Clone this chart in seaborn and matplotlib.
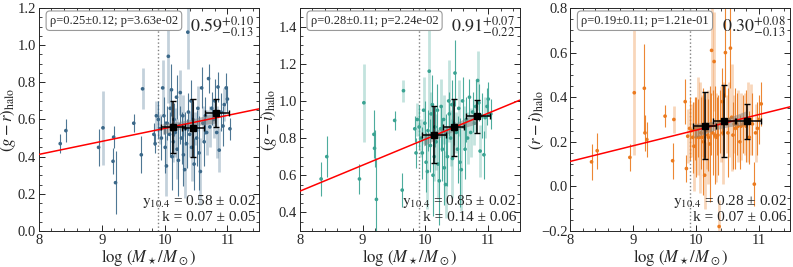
import numpy as np
import matplotlib
matplotlib.use("Agg")
import matplotlib.pyplot as plt
import seaborn as sns
import pandas as pd
from matplotlib.ticker import AutoMinorLocator, MultipleLocator

sns.set_style("ticks")
plt.rcParams['font.family'] = ['Liberation Serif', 'DejaVu Serif']
plt.rcParams['mathtext.fontset'] = 'stix'

# stellar mass of each galaxy (same sample in all three panels)
logm = [8.34, 8.43, 8.95, 9.02, 9.18, 9.19, 9.22, 9.51, 9.63, 9.65, 9.83, 9.85, 9.87,
        9.90, 9.93, 9.95, 9.97, 9.99, 10.01, 10.03, 10.04, 10.06, 10.08, 10.09, 10.11,
        10.12, 10.14, 10.15, 10.17, 10.19, 10.20, 10.22, 10.24, 10.25, 10.27, 10.29, 10.30,
        10.32, 10.33, 10.35, 10.37, 10.38, 10.40, 10.42, 10.43, 10.45, 10.47, 10.49, 10.51,
        10.53, 10.55, 10.57, 10.59, 10.61, 10.63, 10.65, 10.67, 10.70, 10.72, 10.75, 10.78,
        10.80, 10.83, 10.85, 10.87, 10.90, 10.93, 10.95, 10.98, 11.00, 11.04]

# halo colours
gr = [0.47, 0.54, 0.45, 0.555, 0.375, 0.505, 0.26, 0.58, 0.41, 0.765, 0.52, 0.47, 0.62,
      0.60, 0.55, 0.50, 0.77, 0.62, 0.45, 0.35, 0.58, 0.94, 0.52, 0.66, 0.76,
      0.40, 0.48, 0.60, 0.53, 0.72, 0.44, 0.38, 0.57, 0.745, 0.50, 0.62, 0.41,
      0.33, 0.55, 0.47, 1.07, 0.64, 0.52, 0.70, 0.45, 0.60, 0.36, 0.55, 0.50,
      0.66, 0.42, 0.32, 0.77, 0.58, 0.48, 0.62, 0.53, 0.82, 0.56, 0.66, 0.60,
      0.70, 0.53, 0.775, 0.435, 0.64, 0.565, 0.68, 0.77, 0.71, 0.55]
gr_err = [0.05, 0.06, 0.10, 0.20, 0.07, 0.06, 0.17, 0.05, 0.10, 0.11, 0.06, 0.05, 0.08,
          0.10, 0.08, 0.12, 0.15, 0.10, 0.14, 0.16, 0.09, 0.25, 0.12, 0.10, 0.14,
          0.18, 0.11, 0.09, 0.13, 0.12, 0.16, 0.19, 0.10, 0.12, 0.14, 0.11, 0.17,
          0.15, 0.09, 0.13, 0.20, 0.10, 0.12, 0.11, 0.18, 0.10, 0.14, 0.09, 0.15,
          0.12, 0.20, 0.18, 0.11, 0.09, 0.13, 0.10, 0.12, 0.08, 0.11, 0.09, 0.10,
          0.12, 0.14, 0.08, 0.12, 0.10, 0.11, 0.09, 0.08, 0.07, 0.06]

gi = [0.58, 0.70, 0.58, 0.99, 0.82, 0.745, 0.47, 0.895, 0.52, 1.055, 0.85, 0.72, 0.90,
      0.86, 0.80, 0.72, 0.95, 0.88, 0.67, 0.62, 0.84, 1.16, 0.76, 0.93, 0.98,
      0.60, 0.70, 0.86, 0.78, 0.95, 0.66, 0.57, 0.85, 0.97, 0.74, 0.90, 0.64,
      0.55, 0.82, 0.70, 1.00, 0.93, 0.80, 0.98, 0.69, 0.88, 1.15, 0.83, 0.74,
      0.96, 0.67, 0.63, 1.00, 0.86, 0.74, 0.90, 0.80, 1.02, 0.83, 0.94, 0.88,
      0.97, 1.11, 0.99, 0.73, 0.92, 0.71, 0.91, 0.97, 1.01, 0.93]
gi_err = [0.09, 0.11, 0.08, 0.21, 0.13, 0.10, 0.22, 0.05, 0.09, 0.06, 0.07, 0.08, 0.09,
          0.12, 0.10, 0.14, 0.18, 0.12, 0.16, 0.20, 0.11, 0.30, 0.14, 0.12, 0.16,
          0.22, 0.13, 0.11, 0.15, 0.14, 0.19, 0.24, 0.12, 0.15, 0.17, 0.13, 0.20,
          0.18, 0.11, 0.16, 0.22, 0.12, 0.15, 0.13, 0.21, 0.12, 0.18, 0.11, 0.18,
          0.15, 0.24, 0.22, 0.13, 0.11, 0.16, 0.12, 0.14, 0.10, 0.13, 0.11, 0.12,
          0.14, 0.16, 0.10, 0.14, 0.12, 0.13, 0.11, 0.10, 0.09, 0.08]

ri = [0.11, 0.16, 0.13, 0.42, 0.44, 0.24, 0.21, 0.315, 0.115, 0.30, 0.38, 0.08, 0.225,
      0.26, 0.25, 0.22, 0.18, 0.26, 0.22, 0.27, 0.26, 0.22, 0.24, 0.27, 0.22,
      0.20, 0.05, 0.26, 0.25, 0.23, 0.22, 0.19, 0.28, 0.61, 0.24, 0.56, 0.23,
      0.22, 0.27, 0.23, -0.18, 0.29, 0.28, 0.38, 0.24, 0.28, 0.60, 0.28, 0.24,
      0.30, 0.62, 0.31, 0.23, 0.28, 0.26, 0.28, 0.27, 0.20, 0.27, 0.28, 0.28,
      0.27, 0.29, 0.22, 0.30, 0.28, 0.01, 0.24, 0.26, 0.30, 0.37]
ri_err = [0.08, 0.08, 0.06, 0.28, 0.20, 0.08, 0.08, 0.05, 0.08, 0.06, 0.10, 0.06, 0.12,
          0.14, 0.12, 0.16, 0.20, 0.14, 0.18, 0.22, 0.13, 0.25, 0.16, 0.14, 0.18,
          0.24, 0.15, 0.13, 0.17, 0.16, 0.21, 0.26, 0.14, 0.20, 0.19, 0.22, 0.22,
          0.20, 0.13, 0.18, 0.12, 0.14, 0.17, 0.15, 0.23, 0.14, 0.20, 0.13, 0.20,
          0.17, 0.18, 0.24, 0.15, 0.13, 0.18, 0.14, 0.16, 0.12, 0.15, 0.13, 0.14,
          0.16, 0.18, 0.12, 0.16, 0.14, 0.10, 0.13, 0.12, 0.11, 0.10]

# galaxies whose error bars are drawn faint/thick
faint = [3, 9, 12, 14, 16, 19, 21, 23, 26, 28, 30, 33, 35, 37, 40, 42, 44, 47, 49,
         51, 53, 56, 58, 60, 62, 64, 67]

# binned means
bin_x = [10.14, 10.45, 10.82]
bin_xlo = [9.95, 10.28, 10.64]
bin_xhi = [10.32, 10.62, 11.03]
gr_bin = [0.561, 0.555, 0.633]
gr_bin_lo = [0.42, 0.40, 0.557]
gr_bin_hi = [0.70, 0.71, 0.71]
gi_bin = [0.817, 0.858, 0.917]
gi_bin_lo = [0.666, 0.705, 0.826]
gi_bin_hi = [0.973, 1.009, 1.007]
ri_bin = [0.271, 0.294, 0.294]
ri_bin_lo = [0.124, 0.130, 0.213]
ri_bin_hi = [0.423, 0.456, 0.370]

# fit results
y104 = [0.58, 0.85, 0.28]
y104_err = [0.02, 0.02, 0.02]
slope = [0.07, 0.14, 0.07]
slope_err = [0.05, 0.06, 0.06]
rho = ["ρ=0.25±0.12; p=3.63e-02", "ρ=0.28±0.11; p=2.24e-02", "ρ=0.19±0.11; p=1.21e-01"]
median_txt = [r"$0.59^{+0.10}_{-0.13}$", r"$0.91^{+0.07}_{-0.22}$", r"$0.30^{+0.08}_{-0.13}$"]
ylabels = [r"$(g-r)_\mathrm{halo}$", r"$(g-i)_\mathrm{halo}$", r"$(r-i)_\mathrm{halo}$"]
ylims = [(0.0, 1.2), (0.3, 1.5), (-0.2, 0.8)]
colors = ["#3b6889", "#3aa392", "#eb7a1e"]

panels = [
    (gr, gr_err, gr_bin, gr_bin_lo, gr_bin_hi),
    (gi, gi_err, gi_bin, gi_bin_lo, gi_bin_hi),
    (ri, ri_err, ri_bin, ri_bin_lo, ri_bin_hi),
]

fig = plt.figure(figsize=(7.93, 2.67), dpi=100)
lefts = [0.049, 0.378, 0.719]
ylab_x = [-0.095, -0.095, -0.11]

for i, (y, yerr, by, blo, bhi) in enumerate(panels):
    ax = fig.add_axes([lefts[i], 0.135, 0.2774, 0.835])
    c = colors[i]
    df = pd.DataFrame({"logm": logm, "col": y, "err": yerr})
    df["faint"] = [j in faint for j in range(len(df))]

    ax.axvline(9.9, color="gray", ls=":", lw=1.0, zorder=1)

    f = df[df.faint]
    d = df[~df.faint]
    ax.errorbar(f.logm, f.col, yerr=f.err, fmt="none", ecolor=c, alpha=0.3,
                elinewidth=2.0, zorder=2)
    ax.errorbar(d.logm, d.col, yerr=d.err, fmt="none", ecolor=c, alpha=0.9,
                elinewidth=0.8, zorder=2)
    sns.scatterplot(data=df, x="logm", y="col", ax=ax, color=c, s=7,
                    edgecolor="none", zorder=3, legend=False)

    # fit line and its uncertainty
    xx = np.linspace(8, 11.5, 200)
    yy = y104[i] + slope[i] * (xx - 10.4)
    sns.lineplot(x=xx, y=yy, ax=ax, color="red", lw=1.1, zorder=4)
    xb = np.linspace(9.97, 10.8, 100)
    yb = y104[i] + slope[i] * (xb - 10.4)
    hw = np.sqrt(y104_err[i] ** 2 + (slope_err[i] * (xb - 10.4)) ** 2)
    ax.fill_between(xb, yb - hw, yb + hw, color="gray", alpha=0.5, lw=0, zorder=3.5)

    by = np.array(by)
    ax.errorbar(bin_x, by, yerr=[by - np.array(blo), np.array(bhi) - by],
                xerr=[np.array(bin_x) - np.array(bin_xlo), np.array(bin_xhi) - np.array(bin_x)],
                fmt="s", color="black", ms=5, elinewidth=1.1, capsize=2, capthick=1,
                zorder=5)

    ax.text(0.05, 0.943, rho[i], transform=ax.transAxes, fontsize=9, va="center",
            ha="left", bbox=dict(boxstyle="round,pad=0.3", fc="white", ec="#999999", lw=0.8),
            zorder=6)
    ax.text(0.98, 0.975, median_txt[i], transform=ax.transAxes, fontsize=13,
            ha="right", va="top", zorder=6)
    ax.text(0.985, 0.13, r"$\mathrm{y}_{10.4}$" + f" = {y104[i]:.2f} ± {y104_err[i]:.2f}",
            transform=ax.transAxes, fontsize=11, ha="right", va="center", zorder=6)
    ax.text(0.985, 0.06, f"k = {slope[i]:.2f} ± {slope_err[i]:.2f}",
            transform=ax.transAxes, fontsize=11, ha="right", va="center", zorder=6)

    ax.set_xlim(8, 11.5)
    ax.set_ylim(*ylims[i])
    ax.xaxis.set_major_locator(MultipleLocator(1))
    ax.xaxis.set_minor_locator(AutoMinorLocator(5))
    ax.yaxis.set_major_locator(MultipleLocator(0.2))
    ax.yaxis.set_minor_locator(AutoMinorLocator(4))
    ax.tick_params(which="both", direction="in", top=True, right=True, labelsize=10.5,
                   pad=2)
    ax.tick_params(which="major", length=4, width=0.7)
    ax.tick_params(which="minor", length=2, width=0.6)
    for s in ax.spines.values():
        s.set_linewidth(0.7)
    ax.set_xlabel(r"$\log\,(M_\star/M_\odot)$", fontsize=12, labelpad=0)
    ax.set_ylabel(ylabels[i], fontsize=12)
    ax.yaxis.set_label_coords(ylab_x[i], 0.5)

fig.savefig("out.png", dpi=100)
